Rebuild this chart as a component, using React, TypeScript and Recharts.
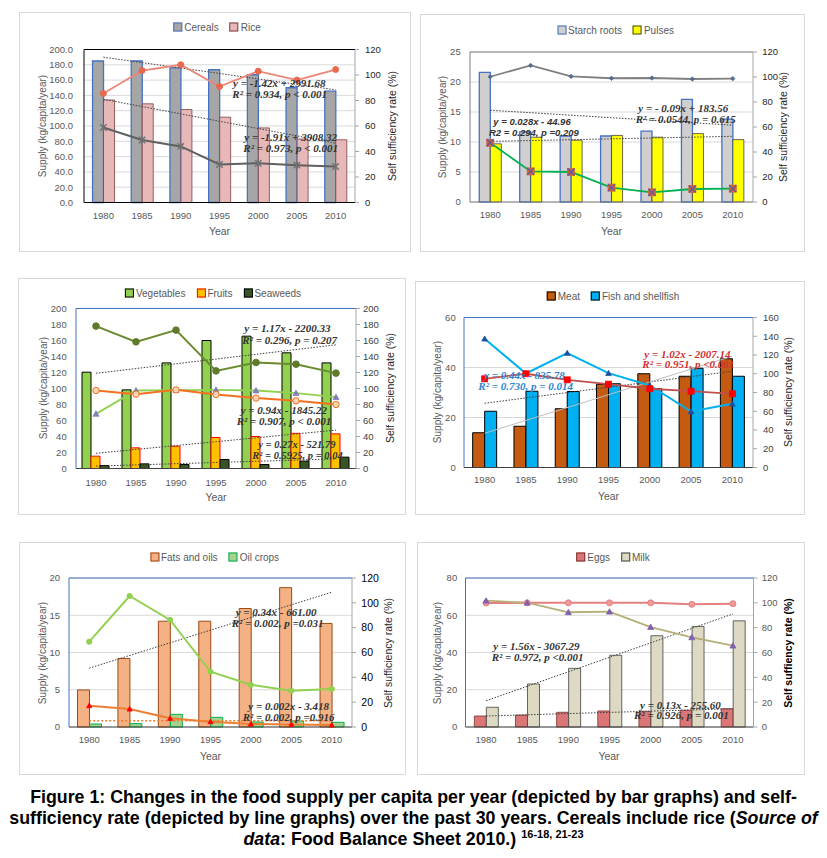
import React from 'react';
import { ComposedChart, Bar, Line, XAxis, YAxis, CartesianGrid, ReferenceLine } from 'recharts';

const SANS = '"Liberation Sans", Arial, sans-serif';
const NARROW = '"Liberation Sans Narrow", "Arial Narrow", "Liberation Sans", sans-serif';
const SERIF = '"Liberation Serif", "Times New Roman", serif';

const years = ['1980', '1985', '1990', '1995', '2000', '2005', '2010'];

// Panel 1: cereals & rice
const cerealsSupply = [185, 185, 176, 173.5, 167, 150, 145.5];
const riceSupply = [134, 129, 121.5, 111.5, 97.5, 83, 82];
const riceSsr = [85.5, 103.5, 108, 91, 103, 96, 104.3];
const cerealsSsr = [58.8, 49, 44, 29.8, 30.8, 29.3, 28.2];
const cerealsTrend = [190, null, null, null, null, null, 147.3];
const riceTrend = [135, null, null, null, null, null, 77.5];
const p1LeftTicks = [0, 20, 40, 60, 80, 100, 120, 140, 160, 180, 200];
const p1RightTicks = [0, 20, 40, 60, 80, 100, 120];

// Panel 2: starch roots & pulses
const starchSupply = [21.6, 11.7, 11.0, 11.0, 11.8, 17.1, 13.8];
const pulsesSupply = [9.7, 10.8, 10.3, 11.1, 10.8, 11.4, 10.4];
const starchSsr = [100.2, 109.3, 100.5, 99, 99.2, 98.4, 98.7];
const pulsesSsr = [47.4, 24.5, 24, 11.5, 7.7, 10.4, 10.7];
const starchTrend = [15.3, null, null, null, null, null, 12.8];
const pulsesTrend = [10.1, null, null, null, null, null, 10.95];
const p2LeftTicks = [0, 5, 10, 15, 20, 25];
const p2RightTicks = [0, 20, 40, 60, 80, 100, 120];

// Panel 3: vegetables, fruits, seaweeds
const vegSupply = [120.4, 98.3, 132, 160, 165.4, 144.6, 132];
const fruitSupply = [15.4, 25.8, 27.9, 38.75, 40, 44, 43.3];
const seaweedSupply = [3.75, 5.8, 5, 11.25, 5, 9.2, 14.2];
const seaweedSsr = [178, 158.3, 173, 122, 132.5, 130.4, 119.2];
const vegSsr = [68.3, 97.5, 98, 98.3, 97.5, 94.2, 89.2];
const fruitSsr = [97.5, 92.9, 98.3, 92.5, 88, 84.6, 80];
const vegTrend = [119, null, null, null, null, null, 154.6];
const fruitTrend = [19, null, null, null, null, null, 48];
const seaweedTrend = [3, null, null, null, null, null, 12];
const p3Ticks = [0, 20, 40, 60, 80, 100, 120, 140, 160, 180, 200];

// Panel 4: meat & fish
const meatSupply = [13.9, 16.5, 23.5, 33.3, 37.5, 36.5, 43.5];
const fishSupply = [22.5, 30.5, 30.4, 33.5, 31.5, 39.7, 36.5];
const fishSsr = [137.3, 100.3, 122, 100.6, 87.5, 59.7, 67.9];
const meatSsr = [94.6, 100, 93.5, 88.9, 84, 81.4, 78.6];
const fishTrend = [25.7, null, null, null, null, null, 38.5];
const meatTrend = [13.7, null, null, null, null, null, 44.5];
const p4LeftTicks = [0, 20, 40, 60];
const p4RightTicks = [0, 20, 40, 60, 80, 100, 120, 140, 160];

// Panel 5: fats & oils, oil crops
const fatsSupply = [4.97, 9.2, 14.2, 14.2, 15.9, 18.7, 13.9];
const oilCropSupply = [0.4, 0.45, 1.7, 1.3, 0.67, 0.8, 0.63];
const oilCropSsr = [68.7, 105.5, 86.2, 44.5, 34, 29.2, 30.6];
const fatsSsr = [17.2, 14.5, 7, 4.3, 2.4, 2.1, 1.6];
const fatsTrend = [7.9, null, null, null, null, null, 18.1];
const oilCropTrend = [0.85, null, null, null, null, null, 0.85];
const p5LeftTicks = [0, 5, 10, 15, 20];
const p5RightTicks = [0, 20, 40, 60, 80, 100, 120];

// Panel 6: eggs & milk
const eggsSupply = [5.9, 6.4, 7.9, 8.6, 8.4, 9, 9.8];
const milkSupply = [10.6, 23.1, 31.5, 38.5, 49, 54, 57];
const eggsSsr = [99.9, 100, 100, 100, 100, 98.8, 99.3];
const milkSsr = [101.7, 100.1, 92.4, 92.9, 80.5, 72.2, 65.5];
const milkTrend = [14.1, null, null, null, null, null, 60.7];
const eggsTrend = [5.9, null, null, null, null, null, 9.8];
const p6LeftTicks = [0, 20, 40, 60, 80];
const p6RightTicks = [0, 20, 40, 60, 80, 100, 120];

// ---------- markers ----------
type MK = 'circle' | 'triangle' | 'square' | 'squareX' | 'star' | 'diamond';
const marker = (kind: MK, fill: string, stroke: string, size: number) => (props: any) => {
  const { cx, cy, index } = props;
  const k = `m-${index}`;
  if (cx == null || cy == null || props.value == null) return <g key={k} />;
  const s = size;
  if (kind === 'circle') return <circle key={k} cx={cx} cy={cy} r={s} fill={fill} stroke={stroke} strokeWidth={1} />;
  if (kind === 'triangle')
    return <polygon key={k} points={`${cx},${cy - s} ${cx - s},${cy + s * 0.8} ${cx + s},${cy + s * 0.8}`} fill={fill} stroke={stroke} strokeWidth={0.8} />;
  if (kind === 'square') return <rect key={k} x={cx - s} y={cy - s} width={s * 2} height={s * 2} fill={fill} stroke={stroke} strokeWidth={0.8} />;
  if (kind === 'diamond')
    return <polygon key={k} points={`${cx},${cy - s} ${cx + s},${cy} ${cx},${cy + s} ${cx - s},${cy}`} fill={fill} stroke={stroke} strokeWidth={0.8} />;
  if (kind === 'squareX')
    return (
      <g key={k}>
        <rect x={cx - s} y={cy - s} width={s * 2} height={s * 2} fill={fill} stroke={fill} strokeWidth={0.8} />
        <path d={`M${cx - s},${cy - s}L${cx + s},${cy + s}M${cx + s},${cy - s}L${cx - s},${cy + s}`} stroke={stroke} strokeWidth={1.3} />
      </g>
    );
  // star
  return (
    <path
      key={k}
      d={`M${cx - s},${cy - s}L${cx + s},${cy + s}M${cx + s},${cy - s}L${cx - s},${cy + s}M${cx},${cy - s * 1.2}L${cx},${cy + s * 1.2}`}
      stroke={stroke}
      strokeWidth={1.4}
      fill="none"
    />
  );
};

type Box = { l: number; t: number; r: number; b: number };
type BarS = { key: string; name: string; values: (number | null)[]; fill: string; stroke: string; sw?: number };
type LineS = { key: string; values: (number | null)[]; stroke: string; width: number; dot: (p: any) => any };
type TrendS = { key: string; values: (number | null)[]; stroke: string; width: number; dash?: string };
type Note = { x: number; y: number; t: string; color?: string; font?: string; size?: number };

type Cfg = {
  box: Box;
  plot: Box;
  leftTicks: number[];
  rightTicks: number[];
  leftFmt?: (v: number) => string;
  bars: BarS[];
  lines: LineS[];
  trends: TrendS[];
  grid: boolean;
  frame: string;
  bottom: string;
  leftGap: number;
  rightGap: number;
  xMargin: number;
  gap: string;
  legendX: number;
  legendY: number;
  leftTitleX: number;
  rightTitleX: number;
  rightTitle: string;
  rightTitleStyle?: React.CSSProperties;
  rightTick: { fill: string; fontSize: number };
  notes: Note[];
};

const makeRows = (series: { key: string; values: (number | null)[] }[]) =>
  years.map((y, i) => {
    const r: any = { year: y };
    series.forEach((s) => {
      r[s.key] = s.values[i];
    });
    return r;
  });

function Panel({ cfg }: { cfg: Cfg }) {
  const W = cfg.box.r - cfg.box.l;
  const H = cfg.box.b - cfg.box.t;
  const LW = 40;
  const RW = 40;
  const XH = 30;
  const margin = {
    top: cfg.plot.t - cfg.box.t,
    left: cfg.plot.l - cfg.box.l - LW,
    right: cfg.box.r - cfg.plot.r - RW,
    bottom: cfg.box.b - cfg.plot.b - XH,
  };
  const rows = makeRows([...cfg.bars, ...cfg.lines, ...cfg.trends]);
  const leftMax = cfg.leftTicks[cfg.leftTicks.length - 1];
  const rightMax = cfg.rightTicks[cfg.rightTicks.length - 1];
  const plotCx = (cfg.plot.l + cfg.plot.r) / 2;
  const plotCy = (cfg.plot.t + cfg.plot.b) / 2;
  return (
    <>
      <div
        style={{
          position: 'absolute',
          left: cfg.box.l,
          top: cfg.box.t,
          width: W,
          height: H,
          border: '1px solid #d9d9d9',
          boxSizing: 'border-box',
          background: '#fff',
        }}
      />
      <div style={{ position: 'absolute', left: cfg.box.l, top: cfg.box.t }}>
        <ComposedChart width={W} height={H} data={rows} margin={margin} barGap={0} barCategoryGap={cfg.gap}>
          {cfg.grid && <CartesianGrid yAxisId="left" vertical={false} stroke="#d9d9d9" strokeWidth={1} />}
          <XAxis
            dataKey="year"
            height={XH}
            interval={0}
            tickLine={false}
            tickSize={0}
            tickMargin={cfg.xMargin}
            axisLine={{ stroke: cfg.bottom, strokeWidth: 1 }}
            tick={{ fontSize: 9.5, fill: '#595959', fontFamily: SANS }}
          />
          <YAxis
            yAxisId="left"
            orientation="left"
            width={LW}
            domain={[0, leftMax]}
            ticks={cfg.leftTicks}
            interval={0}
            tickFormatter={cfg.leftFmt}
            tickLine={false}
            tickSize={0}
            tickMargin={cfg.leftGap}
            axisLine={{ stroke: cfg.frame, strokeWidth: 1 }}
            tick={{ fontSize: 9.5, fill: '#595959', fontFamily: SANS }}
          />
          <YAxis
            yAxisId="right"
            orientation="right"
            width={RW}
            domain={[0, rightMax]}
            ticks={cfg.rightTicks}
            interval={0}
            tickLine={{ stroke: '#a6a6a6' }}
            tickSize={4}
            tickMargin={cfg.rightGap - 4}
            axisLine={{ stroke: '#a6a6a6', strokeWidth: 1 }}
            tick={{ fontSize: cfg.rightTick.fontSize, fill: cfg.rightTick.fill, fontFamily: SANS }}
          />
          {cfg.bars.map((b) => (
            <Bar
              key={b.key}
              yAxisId="left"
              dataKey={b.key}
              fill={b.fill}
              stroke={b.stroke}
              strokeWidth={b.sw ?? 1}
              isAnimationActive={false}
            />
          ))}
          {cfg.trends.map((t) => (
            <Line
              key={t.key}
              yAxisId="left"
              type="linear"
              dataKey={t.key}
              stroke={t.stroke}
              strokeWidth={t.width}
              strokeDasharray={t.dash}
              connectNulls
              dot={false}
              activeDot={false}
              isAnimationActive={false}
            />
          ))}
          {cfg.lines.map((l) => (
            <Line
              key={l.key}
              yAxisId="right"
              type="linear"
              dataKey={l.key}
              stroke={l.stroke}
              strokeWidth={l.width}
              dot={l.dot}
              activeDot={false}
              isAnimationActive={false}
            />
          ))}
          <ReferenceLine yAxisId="left" y={leftMax} stroke={cfg.frame} strokeWidth={1} />
        </ComposedChart>
      </div>
      {/* legend */}
      <div
        style={{
          position: 'absolute',
          left: cfg.legendX,
          top: cfg.legendY,
          transform: 'translate(-50%, -50%)',
          display: 'flex',
          gap: 11,
          alignItems: 'center',
          whiteSpace: 'nowrap',
          fontFamily: SANS,
          fontSize: 10,
          color: '#595959',
        }}
      >
        {cfg.bars.map((b) => (
          <div key={b.key} style={{ display: 'flex', alignItems: 'center' }}>
            <span
              style={{
                display: 'inline-block',
                width: 7,
                height: 7,
                background: b.fill,
                border: `1px solid ${b.stroke}`,
                marginRight: 2,
              }}
            />
            <span>{b.name}</span>
          </div>
        ))}
      </div>
      {/* left axis title */}
      <div
        style={{
          position: 'absolute',
          left: cfg.leftTitleX,
          top: plotCy,
          transform: 'translate(-50%, -50%) rotate(-90deg)',
          whiteSpace: 'nowrap',
          fontFamily: SANS,
          fontSize: 10,
          color: '#595959',
        }}
      >
        Supply (kg/capita/year)
      </div>
      {/* right axis title */}
      <div
        style={{
          position: 'absolute',
          left: cfg.rightTitleX,
          top: plotCy,
          transform: 'translate(-50%, -50%) rotate(-90deg)',
          whiteSpace: 'nowrap',
          fontFamily: SANS,
          fontSize: 10.5,
          color: '#262626',
          ...cfg.rightTitleStyle,
        }}
      >
        {cfg.rightTitle}
      </div>
      {/* x title */}
      <div
        style={{
          position: 'absolute',
          left: plotCx,
          top: cfg.plot.b + 29,
          transform: 'translate(-50%, -50%)',
          fontFamily: SANS,
          fontSize: 10.5,
          color: '#595959',
        }}
      >
        Year
      </div>
      {cfg.notes.map((n, i) => (
        <div
          key={i}
          style={{
            position: 'absolute',
            left: n.x,
            top: n.y - (n.size ?? 11) / 2,
            lineHeight: `${n.size ?? 11}px`,
            fontSize: n.size ?? 11,
            fontFamily: n.font ?? SERIF,
            fontStyle: 'italic',
            fontWeight: 'bold',
            color: n.color ?? '#333333',
            whiteSpace: 'nowrap',
          }}
        >
          {n.t}
        </div>
      ))}
    </>
  );
}

const panels: Cfg[] = [
  {
    box: { l: 19, t: 11.5, r: 411, b: 252 },
    plot: { l: 84, t: 49, r: 355, b: 202 },
    leftTicks: p1LeftTicks,
    rightTicks: p1RightTicks,
    leftFmt: (v: number) => v.toFixed(1),
    bars: [
      { key: 'cereals', name: 'Cereals', values: cerealsSupply, fill: '#A6A6A6', stroke: '#4472C4', sw: 1.3 },
      { key: 'rice', name: 'Rice', values: riceSupply, fill: '#E6B9B8', stroke: '#7F3F3F', sw: 0.8 },
    ],
    trends: [
      { key: 'cerT', values: cerealsTrend, stroke: '#404040', width: 1, dash: '1.5 1.5' },
      { key: 'riceT', values: riceTrend, stroke: '#404040', width: 1, dash: '1.5 1.5' },
    ],
    lines: [
      { key: 'riceS', values: riceSsr, stroke: '#EC8575', width: 1.8, dot: marker('circle', '#E8694E', '#E8694E', 3) },
      { key: 'cerS', values: cerealsSsr, stroke: '#606060', width: 2, dot: marker('star', 'none', '#707070', 3.2) },
    ],
    grid: true,
    frame: '#000000',
    bottom: '#000000',
    leftGap: 11,
    rightGap: 10,
    xMargin: 9.6,
    gap: '22%',
    legendX: 217,
    legendY: 27.3,
    leftTitleX: 41.7,
    rightTitleX: 392,
    rightTitle: 'Self sufficiency rate (%)',
    rightTick: { fill: '#262626', fontSize: 9.5 },
    notes: [
      { x: 233, y: 83.3, t: 'y = -1.42x + 2991.68' },
      { x: 232.3, y: 94.3, t: 'R² = 0.934, p < 0.001' },
      { x: 244.3, y: 137.3, t: 'y = -1.91x + 3908.32' },
      { x: 243.3, y: 148.3, t: 'R² = 0.973, p < 0.001' },
    ],
  },
  {
    box: { l: 420, t: 14, r: 805, b: 252 },
    plot: { l: 470, t: 52, r: 753, b: 202 },
    leftTicks: p2LeftTicks,
    rightTicks: p2RightTicks,
    bars: [
      { key: 'starch', name: 'Starch roots', values: starchSupply, fill: '#D0CECE', stroke: '#4472C4', sw: 1.3 },
      { key: 'pulses', name: 'Pulses', values: pulsesSupply, fill: '#FFFF00', stroke: '#404040', sw: 0.8 },
    ],
    trends: [
      { key: 'stT', values: starchTrend, stroke: '#404040', width: 1, dash: '1.5 1.5' },
      { key: 'puT', values: pulsesTrend, stroke: '#404040', width: 1, dash: '1.5 1.5' },
    ],
    lines: [
      { key: 'stS', values: starchSsr, stroke: '#808080', width: 1.8, dot: marker('diamond', '#4F6D8F', '#4F6D8F', 2.2) },
      { key: 'puS', values: pulsesSsr, stroke: '#00B050', width: 1.8, dot: marker('squareX', '#D0633A', '#5B5BA0', 3.5) },
    ],
    grid: true,
    frame: '#7F7F7F',
    bottom: '#7F7F7F',
    leftGap: 9.3,
    rightGap: 9.3,
    xMargin: 9.6,
    gap: '23%',
    legendX: 615.5,
    legendY: 30,
    leftTitleX: 442.3,
    rightTitleX: 783,
    rightTitle: 'Self sufficiency rate (%)',
    rightTick: { fill: '#262626', fontSize: 9.5 },
    notes: [
      { x: 493.3, y: 121.7, t: 'y = 0.028x - 44.96', font: NARROW, size: 9.5 },
      { x: 489, y: 132.3, t: 'R2 = 0.294, p =0.209', font: NARROW, size: 9.5 },
      { x: 638.3, y: 108.3, t: 'y = - 0.09x + 183.56' },
      { x: 635.7, y: 119, t: 'R² = 0.0544, p = 0.615' },
    ],
  },
  {
    box: { l: 18, t: 277.5, r: 406, b: 515 },
    plot: { l: 76, t: 308, r: 356, b: 468 },
    leftTicks: p3Ticks,
    rightTicks: p3Ticks,
    bars: [
      { key: 'veg', name: 'Vegetables', values: vegSupply, fill: '#92D050', stroke: '#000000', sw: 1 },
      { key: 'fruit', name: 'Fruits', values: fruitSupply, fill: '#FFC000', stroke: '#FF0000', sw: 1 },
      { key: 'sea', name: 'Seaweeds', values: seaweedSupply, fill: '#375623', stroke: '#000000', sw: 1 },
    ],
    trends: [
      { key: 'vT', values: vegTrend, stroke: '#404040', width: 1, dash: '1.5 1.5' },
      { key: 'fT', values: fruitTrend, stroke: '#404040', width: 1, dash: '1.5 1.5' },
      { key: 'sT', values: seaweedTrend, stroke: '#404040', width: 1, dash: '1.5 1.5' },
    ],
    lines: [
      { key: 'seaS', values: seaweedSsr, stroke: '#6A8A2E', width: 2, dot: marker('circle', '#5F7A2A', '#5F7A2A', 3.3) },
      { key: 'vegS', values: vegSsr, stroke: '#92D050', width: 1.8, dot: marker('triangle', '#7F7FBF', '#7F7FBF', 3) },
      { key: 'fruitS', values: fruitSsr, stroke: '#F4701F', width: 2, dot: marker('circle', '#FBD3B5', '#F4701F', 3.2) },
    ],
    grid: false,
    frame: '#4472C4',
    bottom: '#404040',
    leftGap: 9.3,
    rightGap: 7,
    xMargin: 10.6,
    gap: '15%',
    legendX: 213,
    legendY: 293.3,
    leftTitleX: 43.3,
    rightTitleX: 390,
    rightTitle: 'Self sufficiency rate (%)',
    rightTick: { fill: '#404040', fontSize: 9.5 },
    notes: [
      { x: 244.3, y: 328.3, t: 'y = 1.17x - 2200.33' },
      { x: 242.3, y: 340, t: 'R² = 0.296, p = 0.207' },
      { x: 240.7, y: 410.7, t: 'y = 0.94x - 1845.22' },
      { x: 236.7, y: 421.7, t: 'R² = 0.907, p < 0.001' },
      { x: 258.3, y: 445.5, t: 'y = 0.27x - 521.79', size: 10.5 },
      { x: 252.3, y: 456, t: 'R² = 0.5925, p = 0.04', size: 10.5 },
    ],
  },
  {
    box: { l: 415, t: 280.5, r: 805, b: 515 },
    plot: { l: 464, t: 317, r: 753, b: 467 },
    leftTicks: p4LeftTicks,
    rightTicks: p4RightTicks,
    bars: [
      { key: 'meat', name: 'Meat', values: meatSupply, fill: '#C55A11', stroke: '#000000', sw: 1 },
      { key: 'fish', name: 'Fish and shellfish', values: fishSupply, fill: '#00B0F0', stroke: '#000000', sw: 1 },
    ],
    trends: [
      { key: 'fiT', values: fishTrend, stroke: '#404040', width: 1, dash: '1.5 1.5' },
      { key: 'meT', values: meatTrend, stroke: '#BFBFBF', width: 1 },
    ],
    lines: [
      { key: 'fishS', values: fishSsr, stroke: '#00B0F0', width: 2, dot: marker('triangle', '#1F4E9F', '#1F4E9F', 2.8) },
      { key: 'meatS', values: meatSsr, stroke: '#C0504D', width: 1.8, dot: marker('square', '#FF0000', '#FF0000', 3) },
    ],
    grid: true,
    frame: '#4472C4',
    bottom: '#404040',
    leftGap: 8.3,
    rightGap: 10,
    xMargin: 8.6,
    gap: '21%',
    legendX: 613,
    legendY: 296,
    leftTitleX: 436.7,
    rightTitleX: 788,
    rightTitle: 'Self sufficiency rate (%)',
    rightTick: { fill: '#404040', fontSize: 9.5 },
    notes: [
      { x: 484, y: 375.7, t: 'y = 0.44x - 835.78', color: '#2E86D0' },
      { x: 478.3, y: 386.7, t: 'R² = 0.730, p = 0.014', color: '#2E86D0' },
      { x: 644.3, y: 354, t: 'y = 1.02x - 2007.14', color: '#D03030' },
      { x: 642.3, y: 364.7, t: 'R² = 0.951, p <0.001', color: '#D03030' },
    ],
  },
  {
    box: { l: 19, t: 542, r: 406, b: 775 },
    plot: { l: 69, t: 578, r: 352, b: 727 },
    leftTicks: p5LeftTicks,
    rightTicks: p5RightTicks,
    bars: [
      { key: 'fats', name: 'Fats and oils', values: fatsSupply, fill: '#F4B183', stroke: '#9C4A14', sw: 1 },
      { key: 'oilc', name: 'Oil crops', values: oilCropSupply, fill: '#A9D18E', stroke: '#00B050', sw: 1 },
    ],
    trends: [
      { key: 'faT', values: fatsTrend, stroke: '#404040', width: 1, dash: '1.5 1.5' },
      { key: 'ocT', values: oilCropTrend, stroke: '#ED7D31', width: 1.5, dash: '2 2' },
    ],
    lines: [
      { key: 'ocS', values: oilCropSsr, stroke: '#92D050', width: 2, dot: marker('circle', '#92D050', '#92D050', 2.6) },
      { key: 'faS', values: fatsSsr, stroke: '#ED7D31', width: 2, dot: marker('triangle', '#FF0000', '#FF0000', 2.6) },
    ],
    grid: true,
    frame: '#4472C4',
    bottom: '#404040',
    leftGap: 9,
    rightGap: 9.3,
    xMargin: 9.6,
    gap: '21%',
    legendX: 214.5,
    legendY: 556.7,
    leftTitleX: 41.7,
    rightTitleX: 388,
    rightTitle: 'Self sufficiency rate (%)',
    rightTick: { fill: '#000000', fontSize: 10.5 },
    notes: [
      { x: 235.7, y: 612.3, t: 'y = 0.34x - 661.00' },
      { x: 231.7, y: 623.3, t: 'R² = 0.002, p =0.031' },
      { x: 248.3, y: 706.7, t: 'y = 0.002x - 3.418' },
      { x: 242.7, y: 717.3, t: 'R² = 0.002, p =0.916' },
    ],
  },
  {
    box: { l: 416.5, t: 542, r: 805, b: 775 },
    plot: { l: 465, t: 578, r: 753, b: 727 },
    leftTicks: p6LeftTicks,
    rightTicks: p6RightTicks,
    bars: [
      { key: 'eggs', name: 'Eggs', values: eggsSupply, fill: '#DA7676', stroke: '#7F2F2F', sw: 0.8 },
      { key: 'milk', name: 'Milk', values: milkSupply, fill: '#DDD9C3', stroke: '#404040', sw: 0.8 },
    ],
    trends: [
      { key: 'miT', values: milkTrend, stroke: '#404040', width: 1, dash: '1.5 1.5' },
      { key: 'egT', values: eggsTrend, stroke: '#404040', width: 1, dash: '1.5 1.5' },
    ],
    lines: [
      { key: 'egS', values: eggsSsr, stroke: '#E57F7F', width: 2, dot: marker('circle', '#EC9A9A', '#E57F7F', 3) },
      { key: 'miS', values: milkSsr, stroke: '#B5AE77', width: 1.8, dot: marker('triangle', '#7F5FAF', '#7F5FAF', 3) },
    ],
    grid: true,
    frame: '#4472C4',
    bottom: '#404040',
    leftGap: 8.3,
    rightGap: 8.3,
    xMargin: 9.6,
    gap: '21.5%',
    legendX: 613,
    legendY: 556.7,
    leftTitleX: 436.7,
    rightTitleX: 788,
    rightTitle: 'Self suffiency rate (%)',
    rightTitleStyle: { fontFamily: NARROW, fontWeight: 'bold', color: '#000', fontSize: 10.5 },
    rightTick: { fill: '#595959', fontSize: 9.5 },
    notes: [
      { x: 493.3, y: 646.7, t: 'y = 1.56x - 3067.29' },
      { x: 491.7, y: 657.3, t: 'R² = 0.972, p <0.001' },
      { x: 640, y: 705, t: 'y = 0.13x - 255.60' },
      { x: 634, y: 715.7, t: 'R² = 0.926, p = 0.001' },
    ],
  },
];

export default function App() {
  return (
    <div style={{ position: 'absolute', left: 0, top: 0, width: 827, height: 858, background: '#fff', overflow: 'hidden' }}>
      {panels.map((p, i) => (
        <Panel key={i} cfg={p} />
      ))}
      <div
        style={{
          position: 'absolute',
          left: 0,
          top: 787,
          width: 827,
          textAlign: 'center',
          fontFamily: NARROW,
          fontWeight: 'bold',
          fontSize: 17.8,
          lineHeight: '21px',
          color: '#000',
        }}
      >
        <div>Figure 1: Changes in the food supply per capita per year (depicted by bar graphs) and self-</div>
        <div>
          sufficiency rate (depicted by line graphs) over the past 30 years. Cereals include rice (<i>Source of</i>
        </div>
        <div>
          <i>data</i>: Food Balance Sheet 2010.) <sup style={{ fontSize: 11, lineHeight: 0 }}>16-18, 21-23</sup>
        </div>
      </div>
    </div>
  );
}
